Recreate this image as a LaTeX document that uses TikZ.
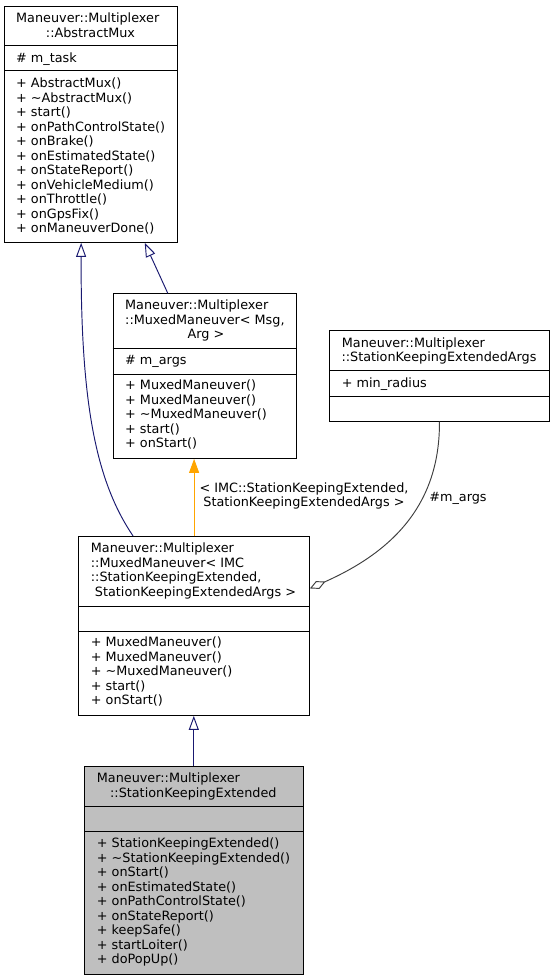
\documentclass[tikz,border=0pt]{standalone}
\usepackage{fontspec}
\setmainfont{DejaVu Sans}
\usepackage{tikz}
\usetikzlibrary{arrows.meta}
\usepackage{xcolor}
\definecolor{navyblue}{HTML}{191970}
\definecolor{tmplorange}{HTML}{FFA500}
\definecolor{usegray}{HTML}{404040}
\definecolor{classfill}{HTML}{BFBFBF}

\begin{document}
\begin{tikzpicture}[x=1pt,y=-1pt,
  font=\fontsize{12.8}{14.5}\selectfont,
  classbox/.style={draw,line width=0.9pt,fill=white,inner sep=0pt,anchor=north west},
  classline/.style={line width=0.9pt},
  member/.style={anchor=base west,inner sep=0pt},
  centred/.style={anchor=base,inner sep=0pt},
  inherit/.style={draw=navyblue,line width=0.95pt,-{Triangle[open,length=14pt,width=10pt]}},
  template/.style={draw=tmplorange,line width=0.95pt,-{Triangle[length=14pt,width=10pt]}},
  usage/.style={draw=usegray,line width=0.95pt,-{Diamond[open,length=17pt,width=8.5pt]}}]
  \useasboundingbox (0,0) rectangle (554,980);
  \fill[white] (0,0) rectangle (554,980);

  % Maneuver::Multiplexer::AbstractMux
  \node[classbox,minimum width=173pt,minimum height=236pt] (amux) at (4,6) {};
  \draw[classline] (4,45.7)--(177,45.7);
  \draw[classline] (4,70.7)--(177,70.7);
  \node[member] (amux-t1) at (16,22.8) {Maneuver::Multiplexer};
  \node[centred] (amux-t2) at (90.5,37.8) {::AbstractMux};
  \node[member] (amux-a1) at (16,62.8) {\# m\_task};
  \foreach \meth [count=\i] in {AbstractMux(),\textasciitilde AbstractMux(),start(),
      onPathControlState(),onBrake(),onEstimatedState(),onStateReport(),
      onVehicleMedium(),onThrottle(),onGpsFix(),onManeuverDone()}
    \node[member] (amux-m\i) at (16,{87.8+14.5*(\i-1)}) {+ \meth};

  % Maneuver::Multiplexer::MuxedManeuver< Msg, Arg >
  \node[classbox,minimum width=183.3pt,minimum height=164.7pt] (muxmsg) at (112.7,293.3) {};
  \draw[classline] (112.7,348.7)--(296,348.7);
  \draw[classline] (112.7,374)--(296,374);
  \node[member] (muxmsg-t1) at (125,309.5) {Maneuver::Multiplexer};
  \node[member] (muxmsg-t2) at (125,324.5) {::MuxedManeuver< Msg,};
  \node[centred] (muxmsg-t3) at (206,338.8) {Arg >};
  \node[member] (muxmsg-a1) at (125,364.5) {\# m\_args};
  \foreach \meth [count=\i] in {MuxedManeuver(),MuxedManeuver(),
      \textasciitilde MuxedManeuver(),start(),onStart()}
    \node[member] (muxmsg-m\i) at (125,{389.5+14.5*(\i-1)}) {+ \meth};

  % Maneuver::Multiplexer::StationKeepingExtendedArgs
  \node[classbox,minimum width=219.4pt,minimum height=90.7pt] (args) at (329.3,330) {};
  \draw[classline] (329.3,370.7)--(548.7,370.7);
  \draw[classline] (329.3,396)--(548.7,396);
  \node[member] (args-t1) at (341.7,347.8) {Maneuver::Multiplexer};
  \node[centred] (args-t2) at (439,361.2) {::StationKeepingExtendedArgs};
  \node[member] (args-a1) at (341.7,387.8) {+ min\_radius};

  % Maneuver::Multiplexer::MuxedManeuver< IMC::StationKeepingExtended, ... >
  \node[classbox,minimum width=230.7pt,minimum height=179pt] (muximc) at (78.3,536) {};
  \draw[classline] (78.3,606)--(309,606);
  \draw[classline] (78.3,631.3)--(309,631.3);
  \node[member] (muximc-t1) at (90.7,552.8) {Maneuver::Multiplexer};
  \node[member] (muximc-t2) at (90.7,567.2) {::MuxedManeuver< IMC};
  \node[member] (muximc-t3) at (90.7,581.8) {::StationKeepingExtended,};
  \node[centred] (muximc-t4) at (195.5,596.2) {StationKeepingExtendedArgs >};
  \foreach \meth [count=\i] in {MuxedManeuver(),MuxedManeuver(),
      \textasciitilde MuxedManeuver(),start(),onStart()}
    \node[member] (muximc-m\i) at (90.7,{646.8+14.5*(\i-1)}) {+ \meth};

  % Maneuver::Multiplexer::StationKeepingExtended
  \node[classbox,fill=classfill,minimum width=218.7pt,minimum height=208.6pt] (ske) at (84,765.7) {};
  \draw[classline] (84,806)--(302.7,806);
  \draw[classline] (84,831)--(302.7,831);
  \node[member] (ske-t1) at (96.7,782.8) {Maneuver::Multiplexer};
  \node[centred] (ske-t2) at (193.3,797.2) {::StationKeepingExtended};
  \foreach \meth [count=\i] in {StationKeepingExtended(),
      \textasciitilde StationKeepingExtended(),onStart(),onEstimatedState(),
      onPathControlState(),onStateReport(),keepSafe(),startLoiter(),doPopUp()}
    \node[member] (ske-m\i) at (96.7,{847.8+14.5*(\i-1)}) {+ \meth};

  % relations
  \draw[inherit] ([xshift=-37pt]muxmsg.north) -- ([xshift=53.8pt]amux.south);
  \draw[inherit] ([xshift=-61pt]muximc.north)
    .. controls (95,480) and (80.7,400) .. ([xshift=-9.8pt]amux.south);
  \draw[template] (muximc.north) -- (muximc.north |- muxmsg.south);
  \node[align=center,inner sep=0pt] (tmpl-label) at (304,496)
    {< IMC::StationKeepingExtended,\\ StationKeepingExtendedArgs >};
  \draw[usage] (args.south)
    .. controls (440,505) and (392,552) .. ([yshift=37.5pt]muximc.east);
  \node[centred] (args-label) at (458,501) {\#m\_args};
  \draw[inherit] (ske.north) -- (ske.north |- muximc.south);
\end{tikzpicture}
\end{document}
